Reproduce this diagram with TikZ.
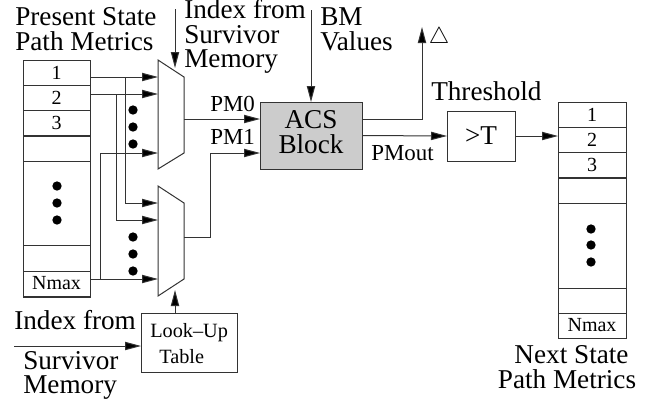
\documentclass[tikz,border=0pt]{standalone}
\usepackage{fontspec}
\setmainfont{Liberation Serif}
\usetikzlibrary{arrows.meta}
\tikzset{
  x=0.75pt,y=-0.75pt,
  wire/.style={draw=black!80,line width=0.75pt},
  arr/.style={wire,-{Triangle[length=12pt,width=6.2pt,fill=black]}},
  box/.style={draw=black!80,line width=0.75pt,inner sep=0pt,outer sep=0pt,anchor=north west},
  big/.style={inner sep=0pt,anchor=base west,font=\fontsize{20.4}{24}\selectfont},
  mid/.style={inner sep=0pt,anchor=base west,font=\fontsize{17.2}{20}\selectfont},
  small/.style={inner sep=0pt,anchor=base west,font=\fontsize{15.2}{18}\selectfont},
  cell/.style={box,minimum width=50.25pt,font=\fontsize{15}{18}\selectfont},
  dotmark/.style={circle,fill=black,inner sep=0pt,minimum size=7pt},
  muxshape/.style={draw=black!80,line width=0.75pt,fill=white}
}
\begin{document}
\begin{tikzpicture}
\useasboundingbox (0,0) rectangle (652,408);
% left register
\node[box,minimum width=50.25pt,minimum height=177.75pt] (regL) at (23,60) {};
\node[cell,minimum height=18.75pt] (L1) at (23,60) {1};
\node[cell,minimum height=18.75pt] (L2) at (23,85) {2};
\node[cell,minimum height=18.75pt] (L3) at (23,110) {3};
\node[cell,minimum height=18.75pt] (L4) at (23,136) {};
\node[cell,minimum height=19.5pt] (L5) at (23,245) {};
\node[cell,minimum height=18.75pt] (L6) at (23,271) {Nmax};
\foreach \n/\yy in {a/186,b/203,c/220} \node[dotmark] (ld\n) at (57,\yy) {};
% right register
\node[box,minimum width=51pt,minimum height=177pt] (regR) at (558,102) {};
\node[cell,minimum width=51pt,minimum height=18.75pt] (R1) at (558,102) {1};
\node[cell,minimum width=51pt,minimum height=18.75pt] (R2) at (558,127) {2};
\node[cell,minimum width=51pt,minimum height=18.75pt] (R3) at (558,152.5) {3};
\node[cell,minimum width=51pt,minimum height=18.75pt] (R4) at (558,178) {};
\node[cell,minimum width=51pt,minimum height=18.75pt] (R5) at (558,288) {};
\node[cell,minimum width=51pt,minimum height=18.75pt] (R6) at (558,313) {Nmax};
\foreach \n/\yy in {a/229,b/245,c/262} \node[dotmark] (rd\n) at (591,\yy) {};
% muxes
\draw[muxshape] (158,60) -- (184,77) -- (184,153) -- (158,169) -- cycle;
\draw[muxshape] (158,186) -- (184,203) -- (184,279) -- (158,296) -- cycle;
\foreach \n/\yy in {a/110,b/127,c/144,d/237,e/254,f/271} \node[dotmark] (md\n) at (133,\yy) {};
% coordinates
\coordinate (m1a) at (158,77);
\coordinate (m1b) at (158,94);
\coordinate (m1c) at (158,153);
\coordinate (m2a) at (158,203);
\coordinate (m2b) at (158,220);
\coordinate (m2c) at (158,279);
\coordinate (m1sel) at (175,68);
\coordinate (m2sel) at (175,290);
\coordinate (m1out) at (184,119);
\coordinate (m2out) at (184,237);
\coordinate (r1out) at (90,77);
\coordinate (r2out) at (90,94);
\coordinate (r6out) at (90,279);
\coordinate (idxtop) at (175,9);
\coordinate (idxlow) at (14,346);
\coordinate (bmtop) at (311,10);
\coordinate (deltaend) at (422,27);
% blocks
\node[box,fill=black!20,minimum width=76.5pt,minimum height=50.25pt] (acs) at (260,102) {};
\node[box,minimum width=51pt,minimum height=37.5pt] (thr) at (447,111) {};
\node[box,minimum width=72pt,minimum height=44.25pt] (lut) at (141,313) {};
% connectors
\draw[arr] (r1out) -- (m1a);
\draw[arr] (r2out) -- (m1b);
\draw[arr] (100,279) |- (m1c);
\draw[arr] (125,77) |- (m2a);
\draw[arr] (116,94) |- (m2b);
\draw[arr] (r6out) -- (m2c);
\draw[arr] (idxtop) -- (m1sel);
\draw[arr] (lut.north west -| m2sel) -- (m2sel);
\draw[arr] (idxlow) -- (idxlow -| lut.west);
\draw[arr] (m1out) -- (m1out -| acs.west);
\draw[arr] (m2out) -| (210,153) -- (acs.west |- 0,153);
\draw[arr] (bmtop) -- (bmtop |- acs.north);
\draw[arr] (acs.east |- 0,119) -| (deltaend);
\draw[arr] (acs.east) -- (thr.west);
\draw[arr] (thr.east) -- (regR.west |- thr.east);
% texts
\node[big] (t1) at (15,25) {Present State};
\node[big] (t2) at (15,50) {Path Metrics};
\node[big] (t3) at (184,18) {Index from};
\node[big] (t4) at (184,43) {Survivor};
\node[big] (t5) at (184,67) {Memory};
\node[big] (t6) at (320,25) {BM};
\node[big] (t7) at (320,50) {Values};
\node[big] (t8) at (14,329) {Index from};
\node[big] (t9) at (23,369) {Survivor};
\node[big] (t10) at (23,393) {Memory};
\node[big,anchor=base] (t11) at (571.5,363) {Next State};
\node[big,anchor=base] (t12) at (567,388) {Path Metrics};
\node[big,anchor=base] (t13) at (311,128) {ACS};
\node[big,anchor=base] (t14) at (311,153) {Block};
\node[big,anchor=base] (t15) at (481,144) {>T};
\node[big] (t16) at (431,100) {Threshold};
\node[mid] (t17) at (210,111) {PM0};
\node[mid] (t18) at (210,144) {PM1};
\node[mid] (t19) at (371,160) {PMout};
\node[small] (t20) at (150,337) {Look–Up};
\node[small] (t21) at (159,363) {Table};
\node[inner sep=0pt,font=\fontsize{17}{20}\selectfont] (t22) at (439,38) {$\triangle$};
\end{tikzpicture}
\end{document}
